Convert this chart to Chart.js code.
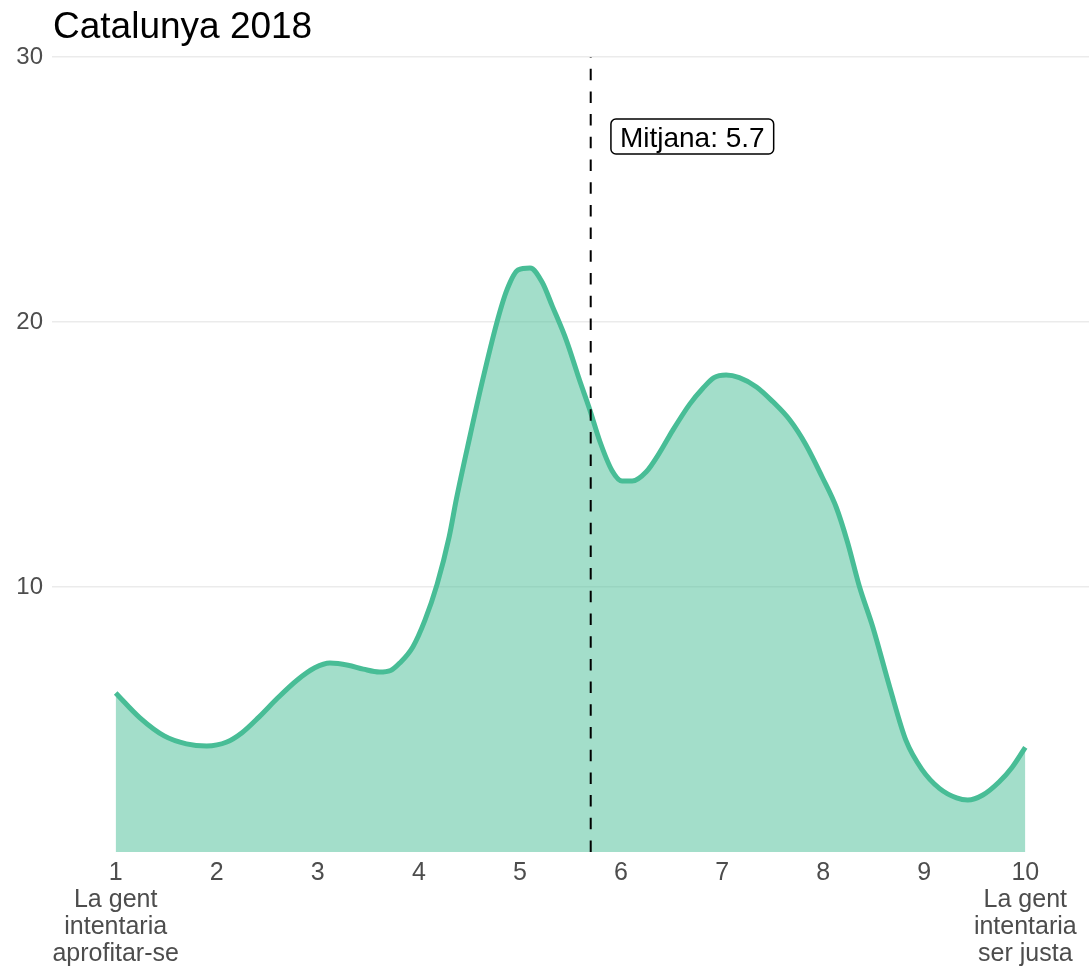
<!DOCTYPE html>
<html>
<head>
<meta charset="utf-8">
<script src="https://cdn.jsdelivr.net/npm/chart.js@4.4.1/dist/chart.umd.min.js"></script>
<style>
  html, body { margin: 0; padding: 0; background: #fff; }
  #wrap { width: 1089px; height: 971px; }
</style>
</head>
<body>
<div id="wrap"><canvas id="chart" width="1089" height="971"></canvas></div>
<script>
// Data
const xValues = [1.00, 1.24, 1.48, 1.70, 1.90, 2.10, 2.25, 2.42, 2.60, 2.80, 2.97, 3.12, 3.30, 3.45,
  3.61, 3.72, 3.81, 3.94, 4.06, 4.18, 4.30, 4.37, 4.50, 4.63, 4.77, 4.87, 4.98, 5.10, 5.22, 5.32,
  5.46, 5.59, 5.69, 5.79, 5.91, 6.01, 6.11, 6.25, 6.38, 6.51, 6.68, 6.81, 6.92, 7.04, 7.17, 7.34,
  7.50, 7.67, 7.83, 7.99, 8.13, 8.24, 8.36, 8.49, 8.66, 8.82, 8.98, 9.15, 9.32, 9.43, 9.58, 9.74,
  9.87, 10.00];
const yValues = [6.0, 5.06, 4.38, 4.08, 4.0, 4.15, 4.5, 5.1, 5.8, 6.5, 6.95, 7.13, 7.05, 6.9,
  6.79, 6.85, 7.13, 7.74, 8.75, 10.1, 11.9, 13.3, 15.6, 17.8, 19.96, 21.2, 21.96, 22.04, 21.5, 20.6,
  19.3, 17.8, 16.7, 15.5, 14.4, 14.0, 14.0, 14.35, 15.06, 15.9, 16.9, 17.5, 17.9, 18.0, 17.9, 17.55,
  17.0, 16.3, 15.36, 14.15, 13.0, 11.7, 10.0, 8.5, 6.2, 4.2, 3.1, 2.4, 2.04, 1.96, 2.15, 2.64,
  3.2, 3.95];

const xTicks = [1, 2, 3, 4, 5, 6, 7, 8, 9, 10];
const yTicks = [10, 20, 30];
const leftLabel = ['La gent', 'intentaria', 'aprofitar-se'];
const rightLabel = ['La gent', 'intentaria', 'ser justa'];

const meanValue = 5.7;
const meanLabel = 'Mitjana: 5.7';
const chartTitle = 'Catalunya 2018';

const FONT = "'Liberation Sans', Arial, sans-serif";
const GREEN = 'rgb(72, 189, 150)';

// Title and mean label
const annotations = {
  id: 'annotations',
  afterDraw(chart) {
    const ctx = chart.ctx;
    const xs = chart.scales.x;
    const ys = chart.scales.y;
    ctx.save();

    ctx.fillStyle = '#000';
    ctx.font = '37px ' + FONT;
    ctx.textBaseline = 'alphabetic';
    ctx.textAlign = 'left';
    ctx.fillText(chartTitle, 53, 37.5);

    ctx.font = '28px ' + FONT;
    const w = ctx.measureText(meanLabel).width;
    const bx = xs.getPixelForValue(meanValue + 0.2);
    const by = ys.getPixelForValue(27);
    const bw = w + 18, bh = 35;
    ctx.beginPath();
    ctx.roundRect(bx, by - bh / 2, bw, bh, 5);
    ctx.fillStyle = '#fff';
    ctx.fill();
    ctx.lineWidth = 1.5;
    ctx.strokeStyle = '#000';
    ctx.stroke();
    ctx.fillStyle = '#000';
    ctx.fillText(meanLabel, bx + 9, by + 10);

    ctx.restore();
  }
};

new Chart(document.getElementById('chart'), {
  type: 'line',
  data: {
    datasets: [
      {
        data: [{ x: meanValue, y: 0 }, { x: meanValue, y: 30 }],
        borderColor: '#000',
        borderWidth: 2,
        borderDash: [11.5, 11.2],
        pointRadius: 0,
        fill: false,
        order: 0,
      },
      {
        data: xValues.map((x, i) => ({ x: x, y: yValues[i] })),
        borderColor: GREEN,
        backgroundColor: 'rgba(72, 189, 150, 0.5)',
        borderWidth: 5,
        pointRadius: 0,
        cubicInterpolationMode: 'monotone',
        fill: 'origin',
        order: 1,
      },
    ],
  },
  options: {
    responsive: false,
    animation: false,
    devicePixelRatio: 1,
    layout: { padding: { top: 57, left: 0, right: 0, bottom: 0 } },
    plugins: {
      legend: { display: false },
      tooltip: { enabled: false },
      title: { display: false },
    },
    scales: {
      x: {
        type: 'linear',
        min: 0.37,
        max: 10.63,
        afterBuildTicks: (s) => { s.ticks = xTicks.map((v) => ({ value: v })); },
        afterFit: (s) => { s.height = 119; },
        grid: { display: false, drawTicks: false },
        border: { display: false },
        ticks: {
          autoSkip: false,
          maxRotation: 0,
          minRotation: 0,
          padding: 8,
          color: '#4d4d4d',
          font: { family: FONT, size: 25, lineHeight: 1.07 },
          callback: (v) => {
            if (v === 1) return ['1', ...leftLabel];
            if (v === 10) return ['10', ...rightLabel];
            return String(v);
          },
        },
      },
      y: {
        type: 'linear',
        min: 0,
        max: 30,
        afterBuildTicks: (s) => { s.ticks = yTicks.map((v) => ({ value: v })); },
        afterFit: (s) => { s.width = 52; },
        grid: { color: '#ebebeb', lineWidth: 1.5, drawTicks: false },
        border: { display: false },
        ticks: {
          padding: 9,
          color: '#4d4d4d',
          font: { family: FONT, size: 24 },
        },
      },
    },
  },
  plugins: [annotations],
});
</script>
</body>
</html>
